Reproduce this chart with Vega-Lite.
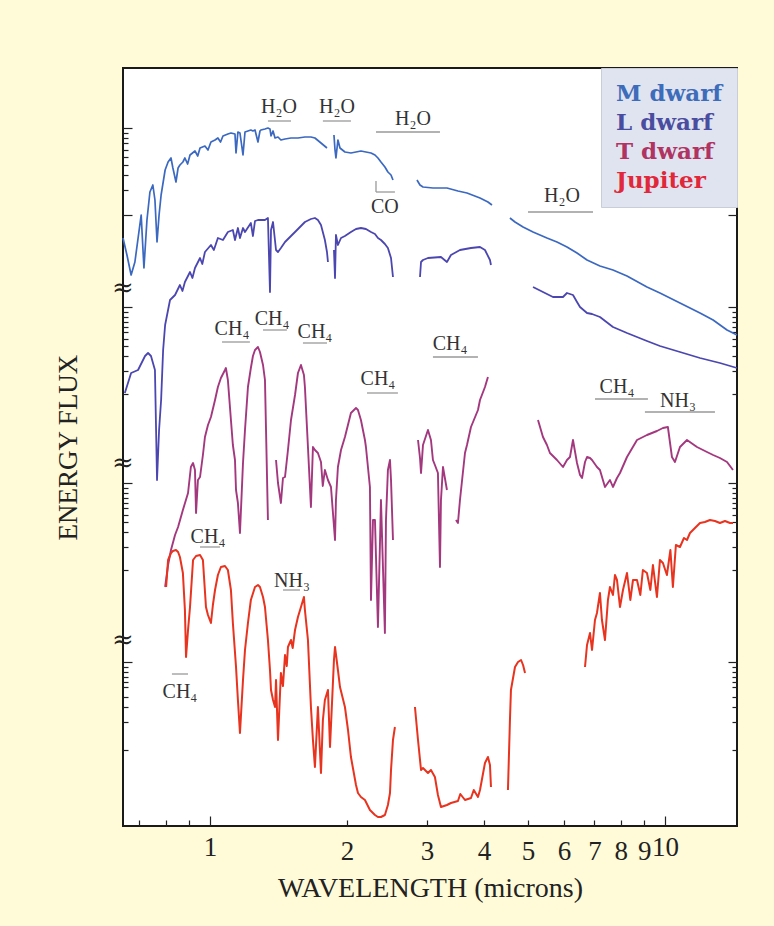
{
  "$schema": "https://vega.github.io/schema/vega-lite/v6.json",
  "width": 614,
  "height": 758,
  "autosize": "none",
  "padding": {"left": 123, "top": 68, "right": 37, "bottom": 100},
  "background": "#fffbd8",
  "config": {"view": {"fill": "white", "stroke": "#1a1a1a", "strokeWidth": 2}, "font": "Liberation Serif"},
  "datasets": {
    "spec": [
      {"s":"M dwarf","g":"M1","wl":0.644,"f":588},{"s":"M dwarf","g":"M1","wl":0.657,"f":571},{"s":"M dwarf","g":"M1","wl":0.671,"f":551},{"s":"M dwarf","g":"M1","wl":0.684,"f":564},{"s":"M dwarf","g":"M1","wl":0.706,"f":611},{"s":"M dwarf","g":"M1","wl":0.716,"f":558},{"s":"M dwarf","g":"M1","wl":0.727,"f":606},{"s":"M dwarf","g":"M1","wl":0.738,"f":634},{"s":"M dwarf","g":"M1","wl":0.749,"f":641},{"s":"M dwarf","g":"M1","wl":0.757,"f":626},{"s":"M dwarf","g":"M1","wl":0.765,"f":584},{"s":"M dwarf","g":"M1","wl":0.773,"f":611},{"s":"M dwarf","g":"M1","wl":0.781,"f":631},{"s":"M dwarf","g":"M1","wl":0.797,"f":656},{"s":"M dwarf","g":"M1","wl":0.809,"f":664},{"s":"M dwarf","g":"M1","wl":0.821,"f":668},{"s":"M dwarf","g":"M1","wl":0.829,"f":658},{"s":"M dwarf","g":"M1","wl":0.842,"f":644},{"s":"M dwarf","g":"M1","wl":0.851,"f":658},{"s":"M dwarf","g":"M1","wl":0.859,"f":661},{"s":"M dwarf","g":"M1","wl":0.872,"f":664},{"s":"M dwarf","g":"M1","wl":0.881,"f":668},{"s":"M dwarf","g":"M1","wl":0.893,"f":662},{"s":"M dwarf","g":"M1","wl":0.904,"f":671},{"s":"M dwarf","g":"M1","wl":0.927,"f":675},{"s":"M dwarf","g":"M1","wl":0.94,"f":670},{"s":"M dwarf","g":"M1","wl":0.951,"f":678},{"s":"M dwarf","g":"M1","wl":0.975,"f":680},{"s":"M dwarf","g":"M1","wl":0.99,"f":676},{"s":"M dwarf","g":"M1","wl":1.005,"f":684},{"s":"M dwarf","g":"M1","wl":1.026,"f":686},{"s":"M dwarf","g":"M1","wl":1.041,"f":688},{"s":"M dwarf","g":"M1","wl":1.055,"f":684},{"s":"M dwarf","g":"M1","wl":1.068,"f":690},{"s":"M dwarf","g":"M1","wl":1.095,"f":692},{"s":"M dwarf","g":"M1","wl":1.112,"f":693},{"s":"M dwarf","g":"M1","wl":1.135,"f":692},{"s":"M dwarf","g":"M1","wl":1.141,"f":673},{"s":"M dwarf","g":"M1","wl":1.152,"f":694},{"s":"M dwarf","g":"M1","wl":1.164,"f":693},{"s":"M dwarf","g":"M1","wl":1.182,"f":671},{"s":"M dwarf","g":"M1","wl":1.194,"f":694},{"s":"M dwarf","g":"M1","wl":1.212,"f":695},{"s":"M dwarf","g":"M1","wl":1.23,"f":696},{"s":"M dwarf","g":"M1","wl":1.243,"f":695},{"s":"M dwarf","g":"M1","wl":1.256,"f":696},{"s":"M dwarf","g":"M1","wl":1.275,"f":684},{"s":"M dwarf","g":"M1","wl":1.288,"f":695},{"s":"M dwarf","g":"M1","wl":1.294,"f":696},{"s":"M dwarf","g":"M1","wl":1.321,"f":697},{"s":"M dwarf","g":"M1","wl":1.341,"f":698},{"s":"M dwarf","g":"M1","wl":1.355,"f":697},{"s":"M dwarf","g":"M1","wl":1.362,"f":690},{"s":"M dwarf","g":"M1","wl":1.376,"f":695},{"s":"M dwarf","g":"M1","wl":1.39,"f":688},{"s":"M dwarf","g":"M1","wl":1.411,"f":689},{"s":"M dwarf","g":"M1","wl":1.432,"f":686},{"s":"M dwarf","g":"M1","wl":1.462,"f":687},{"s":"M dwarf","g":"M1","wl":1.507,"f":688},{"s":"M dwarf","g":"M1","wl":1.561,"f":688},{"s":"M dwarf","g":"M1","wl":1.617,"f":689},{"s":"M dwarf","g":"M1","wl":1.667,"f":689},{"s":"M dwarf","g":"M1","wl":1.701,"f":688},{"s":"M dwarf","g":"M1","wl":1.754,"f":683},{"s":"M dwarf","g":"M1","wl":1.808,"f":678},
      {"s":"M dwarf","g":"M2","wl":1.873,"f":691},{"s":"M dwarf","g":"M2","wl":1.883,"f":676},{"s":"M dwarf","g":"M2","wl":1.892,"f":668},{"s":"M dwarf","g":"M2","wl":1.911,"f":686},{"s":"M dwarf","g":"M2","wl":1.931,"f":678},{"s":"M dwarf","g":"M2","wl":1.98,"f":674},{"s":"M dwarf","g":"M2","wl":2.041,"f":673},{"s":"M dwarf","g":"M2","wl":2.094,"f":674},{"s":"M dwarf","g":"M2","wl":2.147,"f":675},{"s":"M dwarf","g":"M2","wl":2.202,"f":674},{"s":"M dwarf","g":"M2","wl":2.259,"f":673},{"s":"M dwarf","g":"M2","wl":2.305,"f":671},{"s":"M dwarf","g":"M2","wl":2.34,"f":668},{"s":"M dwarf","g":"M2","wl":2.376,"f":664},{"s":"M dwarf","g":"M2","wl":2.424,"f":659},{"s":"M dwarf","g":"M2","wl":2.461,"f":654},{"s":"M dwarf","g":"M2","wl":2.5,"f":651},{"s":"M dwarf","g":"M2","wl":2.525,"f":646},
      {"s":"M dwarf","g":"M3","wl":2.851,"f":646},{"s":"M dwarf","g":"M3","wl":2.895,"f":641},{"s":"M dwarf","g":"M3","wl":2.939,"f":639},{"s":"M dwarf","g":"M3","wl":3.091,"f":638},{"s":"M dwarf","g":"M3","wl":3.318,"f":638},{"s":"M dwarf","g":"M3","wl":3.508,"f":635},{"s":"M dwarf","g":"M3","wl":3.672,"f":633},{"s":"M dwarf","g":"M3","wl":3.922,"f":628},{"s":"M dwarf","g":"M3","wl":4.083,"f":624},{"s":"M dwarf","g":"M3","wl":4.167,"f":621},
      {"s":"M dwarf","g":"M4","wl":4.564,"f":608},{"s":"M dwarf","g":"M4","wl":4.682,"f":604},{"s":"M dwarf","g":"M4","wl":4.877,"f":599},{"s":"M dwarf","g":"M4","wl":5.129,"f":594},{"s":"M dwarf","g":"M4","wl":5.504,"f":588},{"s":"M dwarf","g":"M4","wl":5.79,"f":584},{"s":"M dwarf","g":"M4","wl":6.091,"f":579},{"s":"M dwarf","g":"M4","wl":6.408,"f":573},{"s":"M dwarf","g":"M4","wl":6.741,"f":566},{"s":"M dwarf","g":"M4","wl":7.197,"f":560},{"s":"M dwarf","g":"M4","wl":7.687,"f":556},{"s":"M dwarf","g":"M4","wl":8.252,"f":550},{"s":"M dwarf","g":"M4","wl":9.13,"f":539},{"s":"M dwarf","g":"M4","wl":9.75,"f":533},{"s":"M dwarf","g":"M4","wl":10.79,"f":523},{"s":"M dwarf","g":"M4","wl":11.94,"f":513},{"s":"M dwarf","g":"M4","wl":12.76,"f":506},{"s":"M dwarf","g":"M4","wl":13.69,"f":496},{"s":"M dwarf","g":"M4","wl":14.4,"f":491},

      {"s":"L dwarf","g":"L1","wl":0.65,"f":433},{"s":"L dwarf","g":"L1","wl":0.671,"f":453},{"s":"L dwarf","g":"L1","wl":0.695,"f":456},{"s":"L dwarf","g":"L1","wl":0.72,"f":470},{"s":"L dwarf","g":"L1","wl":0.731,"f":473},{"s":"L dwarf","g":"L1","wl":0.742,"f":470},{"s":"L dwarf","g":"L1","wl":0.757,"f":456},{"s":"L dwarf","g":"L1","wl":0.765,"f":346},{"s":"L dwarf","g":"L1","wl":0.773,"f":396},{"s":"L dwarf","g":"L1","wl":0.781,"f":426},{"s":"L dwarf","g":"L1","wl":0.789,"f":476},{"s":"L dwarf","g":"L1","wl":0.797,"f":501},{"s":"L dwarf","g":"L1","wl":0.817,"f":526},{"s":"L dwarf","g":"L1","wl":0.838,"f":531},{"s":"L dwarf","g":"L1","wl":0.859,"f":541},{"s":"L dwarf","g":"L1","wl":0.87,"f":535},{"s":"L dwarf","g":"L1","wl":0.881,"f":544},{"s":"L dwarf","g":"L1","wl":0.904,"f":554},{"s":"L dwarf","g":"L1","wl":0.915,"f":548},{"s":"L dwarf","g":"L1","wl":0.927,"f":558},{"s":"L dwarf","g":"L1","wl":0.951,"f":568},{"s":"L dwarf","g":"L1","wl":0.962,"f":562},{"s":"L dwarf","g":"L1","wl":0.975,"f":574},{"s":"L dwarf","g":"L1","wl":1.005,"f":581},{"s":"L dwarf","g":"L1","wl":1.02,"f":576},{"s":"L dwarf","g":"L1","wl":1.041,"f":588},{"s":"L dwarf","g":"L1","wl":1.068,"f":586},{"s":"L dwarf","g":"L1","wl":1.095,"f":594},{"s":"L dwarf","g":"L1","wl":1.123,"f":596},{"s":"L dwarf","g":"L1","wl":1.135,"f":586},{"s":"L dwarf","g":"L1","wl":1.152,"f":598},{"s":"L dwarf","g":"L1","wl":1.164,"f":588},{"s":"L dwarf","g":"L1","wl":1.182,"f":598},{"s":"L dwarf","g":"L1","wl":1.194,"f":594},{"s":"L dwarf","g":"L1","wl":1.23,"f":603},{"s":"L dwarf","g":"L1","wl":1.243,"f":590},{"s":"L dwarf","g":"L1","wl":1.256,"f":605},{"s":"L dwarf","g":"L1","wl":1.275,"f":606},{"s":"L dwarf","g":"L1","wl":1.321,"f":606},{"s":"L dwarf","g":"L1","wl":1.341,"f":608},{"s":"L dwarf","g":"L1","wl":1.355,"f":534},{"s":"L dwarf","g":"L1","wl":1.362,"f":596},{"s":"L dwarf","g":"L1","wl":1.376,"f":604},{"s":"L dwarf","g":"L1","wl":1.397,"f":576},{"s":"L dwarf","g":"L1","wl":1.411,"f":574},{"s":"L dwarf","g":"L1","wl":1.432,"f":578},{"s":"L dwarf","g":"L1","wl":1.462,"f":584},{"s":"L dwarf","g":"L1","wl":1.507,"f":590},{"s":"L dwarf","g":"L1","wl":1.538,"f":594},{"s":"L dwarf","g":"L1","wl":1.585,"f":600},{"s":"L dwarf","g":"L1","wl":1.617,"f":604},{"s":"L dwarf","g":"L1","wl":1.667,"f":607},{"s":"L dwarf","g":"L1","wl":1.701,"f":608},{"s":"L dwarf","g":"L1","wl":1.727,"f":606},{"s":"L dwarf","g":"L1","wl":1.754,"f":601},{"s":"L dwarf","g":"L1","wl":1.789,"f":586},{"s":"L dwarf","g":"L1","wl":1.808,"f":574},{"s":"L dwarf","g":"L1","wl":1.817,"f":564},
      {"s":"L dwarf","g":"L2","wl":1.873,"f":576},{"s":"L dwarf","g":"L2","wl":1.883,"f":548},{"s":"L dwarf","g":"L2","wl":1.892,"f":591},{"s":"L dwarf","g":"L2","wl":1.911,"f":581},{"s":"L dwarf","g":"L2","wl":1.941,"f":588},{"s":"L dwarf","g":"L2","wl":1.98,"f":590},{"s":"L dwarf","g":"L2","wl":2.041,"f":594},{"s":"L dwarf","g":"L2","wl":2.094,"f":597},{"s":"L dwarf","g":"L2","wl":2.147,"f":598},{"s":"L dwarf","g":"L2","wl":2.202,"f":597},{"s":"L dwarf","g":"L2","wl":2.259,"f":594},{"s":"L dwarf","g":"L2","wl":2.305,"f":592},{"s":"L dwarf","g":"L2","wl":2.34,"f":588},{"s":"L dwarf","g":"L2","wl":2.376,"f":586},{"s":"L dwarf","g":"L2","wl":2.424,"f":582},{"s":"L dwarf","g":"L2","wl":2.461,"f":578},{"s":"L dwarf","g":"L2","wl":2.5,"f":568},{"s":"L dwarf","g":"L2","wl":2.525,"f":549},
      {"s":"L dwarf","g":"L3","wl":2.895,"f":549},{"s":"L dwarf","g":"L3","wl":2.91,"f":564},{"s":"L dwarf","g":"L3","wl":2.939,"f":566},{"s":"L dwarf","g":"L3","wl":3.014,"f":568},{"s":"L dwarf","g":"L3","wl":3.219,"f":569},{"s":"L dwarf","g":"L3","wl":3.318,"f":564},{"s":"L dwarf","g":"L3","wl":3.386,"f":571},{"s":"L dwarf","g":"L3","wl":3.544,"f":576},{"s":"L dwarf","g":"L3","wl":3.747,"f":578},{"s":"L dwarf","g":"L3","wl":3.922,"f":579},{"s":"L dwarf","g":"L3","wl":4.022,"f":576},{"s":"L dwarf","g":"L3","wl":4.125,"f":566},{"s":"L dwarf","g":"L3","wl":4.146,"f":561},
      {"s":"L dwarf","g":"L4","wl":5.129,"f":539},{"s":"L dwarf","g":"L4","wl":5.394,"f":534},{"s":"L dwarf","g":"L4","wl":5.674,"f":529},{"s":"L dwarf","g":"L4","wl":5.969,"f":529},{"s":"L dwarf","g":"L4","wl":6.091,"f":533},{"s":"L dwarf","g":"L4","wl":6.184,"f":532},{"s":"L dwarf","g":"L4","wl":6.279,"f":531},{"s":"L dwarf","g":"L4","wl":6.408,"f":524},{"s":"L dwarf","g":"L4","wl":6.506,"f":519},{"s":"L dwarf","g":"L4","wl":6.741,"f":513},{"s":"L dwarf","g":"L4","wl":6.914,"f":512},{"s":"L dwarf","g":"L4","wl":7.197,"f":509},{"s":"L dwarf","g":"L4","wl":7.687,"f":499},{"s":"L dwarf","g":"L4","wl":8.252,"f":493},{"s":"L dwarf","g":"L4","wl":9.13,"f":485},{"s":"L dwarf","g":"L4","wl":9.75,"f":480},{"s":"L dwarf","g":"L4","wl":10.79,"f":474},{"s":"L dwarf","g":"L4","wl":11.94,"f":468},{"s":"L dwarf","g":"L4","wl":13.21,"f":463},{"s":"L dwarf","g":"L4","wl":14.4,"f":458},

      {"s":"T dwarf","g":"T1","wl":0.797,"f":239},{"s":"T dwarf","g":"T1","wl":0.809,"f":261},{"s":"T dwarf","g":"T1","wl":0.821,"f":276},{"s":"T dwarf","g":"T1","wl":0.838,"f":291},{"s":"T dwarf","g":"T1","wl":0.851,"f":299},{"s":"T dwarf","g":"T1","wl":0.872,"f":316},{"s":"T dwarf","g":"T1","wl":0.895,"f":333},{"s":"T dwarf","g":"T1","wl":0.908,"f":359},{"s":"T dwarf","g":"T1","wl":0.918,"f":363},{"s":"T dwarf","g":"T1","wl":0.927,"f":356},{"s":"T dwarf","g":"T1","wl":0.932,"f":313},{"s":"T dwarf","g":"T1","wl":0.941,"f":346},{"s":"T dwarf","g":"T1","wl":0.951,"f":349},{"s":"T dwarf","g":"T1","wl":0.965,"f":371},{"s":"T dwarf","g":"T1","wl":0.975,"f":389},{"s":"T dwarf","g":"T1","wl":0.99,"f":401},{"s":"T dwarf","g":"T1","wl":1.005,"f":409},{"s":"T dwarf","g":"T1","wl":1.026,"f":426},{"s":"T dwarf","g":"T1","wl":1.041,"f":439},{"s":"T dwarf","g":"T1","wl":1.057,"f":448},{"s":"T dwarf","g":"T1","wl":1.079,"f":456},{"s":"T dwarf","g":"T1","wl":1.084,"f":458},{"s":"T dwarf","g":"T1","wl":1.095,"f":446},{"s":"T dwarf","g":"T1","wl":1.112,"f":406},{"s":"T dwarf","g":"T1","wl":1.123,"f":381},{"s":"T dwarf","g":"T1","wl":1.135,"f":366},{"s":"T dwarf","g":"T1","wl":1.141,"f":336},{"s":"T dwarf","g":"T1","wl":1.152,"f":323},{"s":"T dwarf","g":"T1","wl":1.164,"f":293},{"s":"T dwarf","g":"T1","wl":1.182,"f":363},{"s":"T dwarf","g":"T1","wl":1.194,"f":396},{"s":"T dwarf","g":"T1","wl":1.212,"f":439},{"s":"T dwarf","g":"T1","wl":1.23,"f":458},{"s":"T dwarf","g":"T1","wl":1.243,"f":470},{"s":"T dwarf","g":"T1","wl":1.256,"f":476},{"s":"T dwarf","g":"T1","wl":1.275,"f":479},{"s":"T dwarf","g":"T1","wl":1.288,"f":474},{"s":"T dwarf","g":"T1","wl":1.308,"f":461},{"s":"T dwarf","g":"T1","wl":1.321,"f":446},{"s":"T dwarf","g":"T1","wl":1.341,"f":306},
      {"s":"T dwarf","g":"T2","wl":1.397,"f":366},{"s":"T dwarf","g":"T2","wl":1.411,"f":343},{"s":"T dwarf","g":"T2","wl":1.432,"f":323},{"s":"T dwarf","g":"T2","wl":1.447,"f":348},{"s":"T dwarf","g":"T2","wl":1.462,"f":349},{"s":"T dwarf","g":"T2","wl":1.484,"f":376},{"s":"T dwarf","g":"T2","wl":1.507,"f":406},{"s":"T dwarf","g":"T2","wl":1.538,"f":431},{"s":"T dwarf","g":"T2","wl":1.561,"f":453},{"s":"T dwarf","g":"T2","wl":1.585,"f":461},{"s":"T dwarf","g":"T2","wl":1.609,"f":451},{"s":"T dwarf","g":"T2","wl":1.617,"f":439},{"s":"T dwarf","g":"T2","wl":1.642,"f":379},{"s":"T dwarf","g":"T2","wl":1.667,"f":319},{"s":"T dwarf","g":"T2","wl":1.684,"f":379},{"s":"T dwarf","g":"T2","wl":1.701,"f":376},{"s":"T dwarf","g":"T2","wl":1.727,"f":373},{"s":"T dwarf","g":"T2","wl":1.754,"f":364},{"s":"T dwarf","g":"T2","wl":1.77,"f":340},{"s":"T dwarf","g":"T2","wl":1.789,"f":356},{"s":"T dwarf","g":"T2","wl":1.817,"f":346},{"s":"T dwarf","g":"T2","wl":1.845,"f":339},{"s":"T dwarf","g":"T2","wl":1.883,"f":286},{"s":"T dwarf","g":"T2","wl":1.892,"f":326},{"s":"T dwarf","g":"T2","wl":1.911,"f":359},{"s":"T dwarf","g":"T2","wl":1.941,"f":376},{"s":"T dwarf","g":"T2","wl":1.98,"f":389},{"s":"T dwarf","g":"T2","wl":2.041,"f":413},{"s":"T dwarf","g":"T2","wl":2.094,"f":418},{"s":"T dwarf","g":"T2","wl":2.115,"f":416},{"s":"T dwarf","g":"T2","wl":2.147,"f":406},{"s":"T dwarf","g":"T2","wl":2.191,"f":386},{"s":"T dwarf","g":"T2","wl":2.202,"f":379},{"s":"T dwarf","g":"T2","wl":2.247,"f":339},{"s":"T dwarf","g":"T2","wl":2.259,"f":226},{"s":"T dwarf","g":"T2","wl":2.282,"f":306},{"s":"T dwarf","g":"T2","wl":2.305,"f":306},{"s":"T dwarf","g":"T2","wl":2.34,"f":199},{"s":"T dwarf","g":"T2","wl":2.365,"f":286},{"s":"T dwarf","g":"T2","wl":2.376,"f":326},{"s":"T dwarf","g":"T2","wl":2.424,"f":193},{"s":"T dwarf","g":"T2","wl":2.437,"f":306},{"s":"T dwarf","g":"T2","wl":2.461,"f":356},{"s":"T dwarf","g":"T2","wl":2.487,"f":366},{"s":"T dwarf","g":"T2","wl":2.5,"f":346},{"s":"T dwarf","g":"T2","wl":2.525,"f":286},
      {"s":"T dwarf","g":"T3","wl":2.866,"f":386},{"s":"T dwarf","g":"T3","wl":2.895,"f":368},{"s":"T dwarf","g":"T3","wl":2.91,"f":353},{"s":"T dwarf","g":"T3","wl":2.939,"f":381},{"s":"T dwarf","g":"T3","wl":3.014,"f":396},{"s":"T dwarf","g":"T3","wl":3.06,"f":386},{"s":"T dwarf","g":"T3","wl":3.091,"f":366},{"s":"T dwarf","g":"T3","wl":3.122,"f":361},{"s":"T dwarf","g":"T3","wl":3.17,"f":353},{"s":"T dwarf","g":"T3","wl":3.203,"f":259},{"s":"T dwarf","g":"T3","wl":3.219,"f":326},{"s":"T dwarf","g":"T3","wl":3.252,"f":359},{"s":"T dwarf","g":"T3","wl":3.318,"f":336},
      {"s":"T dwarf","g":"T4","wl":3.473,"f":306},{"s":"T dwarf","g":"T4","wl":3.508,"f":303},{"s":"T dwarf","g":"T4","wl":3.544,"f":326},{"s":"T dwarf","g":"T4","wl":3.635,"f":373},{"s":"T dwarf","g":"T4","wl":3.672,"f":381},{"s":"T dwarf","g":"T4","wl":3.747,"f":399},{"s":"T dwarf","g":"T4","wl":3.882,"f":416},{"s":"T dwarf","g":"T4","wl":3.922,"f":426},{"s":"T dwarf","g":"T4","wl":4.022,"f":439},{"s":"T dwarf","g":"T4","wl":4.083,"f":449},
      {"s":"T dwarf","g":"T5","wl":5.26,"f":406},{"s":"T dwarf","g":"T5","wl":5.394,"f":389},{"s":"T dwarf","g":"T5","wl":5.504,"f":381},{"s":"T dwarf","g":"T5","wl":5.588,"f":373},{"s":"T dwarf","g":"T5","wl":5.674,"f":370},{"s":"T dwarf","g":"T5","wl":5.79,"f":366},{"s":"T dwarf","g":"T5","wl":5.969,"f":359},{"s":"T dwarf","g":"T5","wl":6.091,"f":366},{"s":"T dwarf","g":"T5","wl":6.184,"f":369},{"s":"T dwarf","g":"T5","wl":6.279,"f":386},{"s":"T dwarf","g":"T5","wl":6.408,"f":363},{"s":"T dwarf","g":"T5","wl":6.506,"f":351},{"s":"T dwarf","g":"T5","wl":6.573,"f":348},{"s":"T dwarf","g":"T5","wl":6.673,"f":364},{"s":"T dwarf","g":"T5","wl":6.741,"f":369},{"s":"T dwarf","g":"T5","wl":6.844,"f":368},{"s":"T dwarf","g":"T5","wl":6.914,"f":366},{"s":"T dwarf","g":"T5","wl":7.089,"f":359},{"s":"T dwarf","g":"T5","wl":7.197,"f":356},{"s":"T dwarf","g":"T5","wl":7.382,"f":339},{"s":"T dwarf","g":"T5","wl":7.571,"f":346},{"s":"T dwarf","g":"T5","wl":7.687,"f":339},{"s":"T dwarf","g":"T5","wl":7.845,"f":348},{"s":"T dwarf","g":"T5","wl":7.965,"f":353},{"s":"T dwarf","g":"T5","wl":8.252,"f":369},{"s":"T dwarf","g":"T5","wl":8.681,"f":386},{"s":"T dwarf","g":"T5","wl":9.13,"f":391},{"s":"T dwarf","g":"T5","wl":9.603,"f":395},{"s":"T dwarf","g":"T5","wl":9.899,"f":398},{"s":"T dwarf","g":"T5","wl":10.15,"f":399},{"s":"T dwarf","g":"T5","wl":10.36,"f":369},{"s":"T dwarf","g":"T5","wl":10.52,"f":364},{"s":"T dwarf","g":"T5","wl":10.79,"f":379},{"s":"T dwarf","g":"T5","wl":11.18,"f":386},{"s":"T dwarf","g":"T5","wl":11.76,"f":379},{"s":"T dwarf","g":"T5","wl":12.37,"f":374},{"s":"T dwarf","g":"T5","wl":12.76,"f":371},{"s":"T dwarf","g":"T5","wl":13.21,"f":368},{"s":"T dwarf","g":"T5","wl":13.69,"f":364},{"s":"T dwarf","g":"T5","wl":14.11,"f":356},

      {"s":"Jupiter","g":"J1","wl":0.801,"f":239},{"s":"Jupiter","g":"J1","wl":0.809,"f":266},{"s":"Jupiter","g":"J1","wl":0.821,"f":273},{"s":"Jupiter","g":"J1","wl":0.829,"f":275},{"s":"Jupiter","g":"J1","wl":0.842,"f":276},{"s":"Jupiter","g":"J1","wl":0.851,"f":274},{"s":"Jupiter","g":"J1","wl":0.859,"f":269},{"s":"Jupiter","g":"J1","wl":0.872,"f":253},{"s":"Jupiter","g":"J1","wl":0.881,"f":216},{"s":"Jupiter","g":"J1","wl":0.886,"f":169},{"s":"Jupiter","g":"J1","wl":0.895,"f":196},{"s":"Jupiter","g":"J1","wl":0.904,"f":219},{"s":"Jupiter","g":"J1","wl":0.918,"f":266},{"s":"Jupiter","g":"J1","wl":0.932,"f":270},{"s":"Jupiter","g":"J1","wl":0.951,"f":271},{"s":"Jupiter","g":"J1","wl":0.965,"f":266},{"s":"Jupiter","g":"J1","wl":0.98,"f":219},{"s":"Jupiter","g":"J1","wl":0.99,"f":211},{"s":"Jupiter","g":"J1","wl":1.005,"f":203},{"s":"Jupiter","g":"J1","wl":1.015,"f":221},{"s":"Jupiter","g":"J1","wl":1.026,"f":236},{"s":"Jupiter","g":"J1","wl":1.041,"f":251},{"s":"Jupiter","g":"J1","wl":1.057,"f":259},{"s":"Jupiter","g":"J1","wl":1.079,"f":260},{"s":"Jupiter","g":"J1","wl":1.095,"f":256},{"s":"Jupiter","g":"J1","wl":1.112,"f":236},{"s":"Jupiter","g":"J1","wl":1.123,"f":203},{"s":"Jupiter","g":"J1","wl":1.141,"f":159},{"s":"Jupiter","g":"J1","wl":1.152,"f":126},{"s":"Jupiter","g":"J1","wl":1.164,"f":93},{"s":"Jupiter","g":"J1","wl":1.182,"f":146},{"s":"Jupiter","g":"J1","wl":1.194,"f":176},{"s":"Jupiter","g":"J1","wl":1.212,"f":203},{"s":"Jupiter","g":"J1","wl":1.23,"f":226},{"s":"Jupiter","g":"J1","wl":1.256,"f":239},{"s":"Jupiter","g":"J1","wl":1.275,"f":241},{"s":"Jupiter","g":"J1","wl":1.288,"f":239},{"s":"Jupiter","g":"J1","wl":1.308,"f":229},{"s":"Jupiter","g":"J1","wl":1.321,"f":219},{"s":"Jupiter","g":"J1","wl":1.341,"f":186},{"s":"Jupiter","g":"J1","wl":1.355,"f":156},{"s":"Jupiter","g":"J1","wl":1.362,"f":136},{"s":"Jupiter","g":"J1","wl":1.376,"f":126},{"s":"Jupiter","g":"J1","wl":1.39,"f":119},{"s":"Jupiter","g":"J1","wl":1.397,"f":146},{"s":"Jupiter","g":"J1","wl":1.411,"f":86},{"s":"Jupiter","g":"J1","wl":1.432,"f":153},{"s":"Jupiter","g":"J1","wl":1.447,"f":140},{"s":"Jupiter","g":"J1","wl":1.462,"f":171},{"s":"Jupiter","g":"J1","wl":1.475,"f":160},{"s":"Jupiter","g":"J1","wl":1.484,"f":179},{"s":"Jupiter","g":"J1","wl":1.507,"f":186},{"s":"Jupiter","g":"J1","wl":1.52,"f":178},{"s":"Jupiter","g":"J1","wl":1.538,"f":196},{"s":"Jupiter","g":"J1","wl":1.561,"f":209},{"s":"Jupiter","g":"J1","wl":1.585,"f":219},{"s":"Jupiter","g":"J1","wl":1.609,"f":229},{"s":"Jupiter","g":"J1","wl":1.617,"f":216},{"s":"Jupiter","g":"J1","wl":1.642,"f":186},{"s":"Jupiter","g":"J1","wl":1.667,"f":119},{"s":"Jupiter","g":"J1","wl":1.684,"f":86},{"s":"Jupiter","g":"J1","wl":1.701,"f":59},{"s":"Jupiter","g":"J1","wl":1.727,"f":119},{"s":"Jupiter","g":"J1","wl":1.754,"f":53},{"s":"Jupiter","g":"J1","wl":1.771,"f":106},{"s":"Jupiter","g":"J1","wl":1.789,"f":126},{"s":"Jupiter","g":"J1","wl":1.817,"f":136},{"s":"Jupiter","g":"J1","wl":1.836,"f":79},{"s":"Jupiter","g":"J1","wl":1.873,"f":166},{"s":"Jupiter","g":"J1","wl":1.883,"f":179},{"s":"Jupiter","g":"J1","wl":1.911,"f":156},{"s":"Jupiter","g":"J1","wl":1.931,"f":139},{"s":"Jupiter","g":"J1","wl":1.98,"f":119},{"s":"Jupiter","g":"J1","wl":2.011,"f":96},{"s":"Jupiter","g":"J1","wl":2.041,"f":69},{"s":"Jupiter","g":"J1","wl":2.094,"f":41},{"s":"Jupiter","g":"J1","wl":2.115,"f":33},{"s":"Jupiter","g":"J1","wl":2.147,"f":29},{"s":"Jupiter","g":"J1","wl":2.191,"f":26},{"s":"Jupiter","g":"J1","wl":2.247,"f":16},{"s":"Jupiter","g":"J1","wl":2.305,"f":11},{"s":"Jupiter","g":"J1","wl":2.34,"f":9},{"s":"Jupiter","g":"J1","wl":2.376,"f":9},{"s":"Jupiter","g":"J1","wl":2.424,"f":11},{"s":"Jupiter","g":"J1","wl":2.461,"f":21},{"s":"Jupiter","g":"J1","wl":2.487,"f":33},{"s":"Jupiter","g":"J1","wl":2.5,"f":56},{"s":"Jupiter","g":"J1","wl":2.525,"f":86},{"s":"Jupiter","g":"J1","wl":2.55,"f":99},
      {"s":"Jupiter","g":"J2","wl":2.822,"f":119},{"s":"Jupiter","g":"J2","wl":2.866,"f":86},{"s":"Jupiter","g":"J2","wl":2.91,"f":56},{"s":"Jupiter","g":"J2","wl":2.939,"f":58},{"s":"Jupiter","g":"J2","wl":3.014,"f":53},{"s":"Jupiter","g":"J2","wl":3.06,"f":56},{"s":"Jupiter","g":"J2","wl":3.122,"f":49},{"s":"Jupiter","g":"J2","wl":3.17,"f":31},{"s":"Jupiter","g":"J2","wl":3.219,"f":19},{"s":"Jupiter","g":"J2","wl":3.318,"f":21},{"s":"Jupiter","g":"J2","wl":3.386,"f":23},{"s":"Jupiter","g":"J2","wl":3.508,"f":25},{"s":"Jupiter","g":"J2","wl":3.55,"f":32},{"s":"Jupiter","g":"J2","wl":3.635,"f":26},{"s":"Jupiter","g":"J2","wl":3.747,"f":28},{"s":"Jupiter","g":"J2","wl":3.8,"f":36},{"s":"Jupiter","g":"J2","wl":3.882,"f":29},{"s":"Jupiter","g":"J2","wl":3.922,"f":36},{"s":"Jupiter","g":"J2","wl":4.022,"f":63},{"s":"Jupiter","g":"J2","wl":4.083,"f":69},{"s":"Jupiter","g":"J2","wl":4.125,"f":61},{"s":"Jupiter","g":"J2","wl":4.146,"f":39},
      {"s":"Jupiter","g":"J3","wl":4.518,"f":36},{"s":"Jupiter","g":"J3","wl":4.564,"f":106},{"s":"Jupiter","g":"J3","wl":4.587,"f":136},{"s":"Jupiter","g":"J3","wl":4.682,"f":159},{"s":"Jupiter","g":"J3","wl":4.754,"f":164},{"s":"Jupiter","g":"J3","wl":4.828,"f":166},{"s":"Jupiter","g":"J3","wl":4.877,"f":161},{"s":"Jupiter","g":"J3","wl":4.926,"f":153},
      {"s":"Jupiter","g":"J4","wl":6.673,"f":159},{"s":"Jupiter","g":"J4","wl":6.741,"f":181},{"s":"Jupiter","g":"J4","wl":6.844,"f":193},{"s":"Jupiter","g":"J4","wl":6.914,"f":176},{"s":"Jupiter","g":"J4","wl":7.018,"f":206},{"s":"Jupiter","g":"J4","wl":7.089,"f":213},{"s":"Jupiter","g":"J4","wl":7.197,"f":233},{"s":"Jupiter","g":"J4","wl":7.27,"f":206},{"s":"Jupiter","g":"J4","wl":7.382,"f":186},{"s":"Jupiter","g":"J4","wl":7.494,"f":226},{"s":"Jupiter","g":"J4","wl":7.571,"f":239},{"s":"Jupiter","g":"J4","wl":7.687,"f":231},{"s":"Jupiter","g":"J4","wl":7.765,"f":251},{"s":"Jupiter","g":"J4","wl":7.845,"f":246},{"s":"Jupiter","g":"J4","wl":7.965,"f":219},{"s":"Jupiter","g":"J4","wl":8.087,"f":236},{"s":"Jupiter","g":"J4","wl":8.252,"f":253},{"s":"Jupiter","g":"J4","wl":8.393,"f":226},{"s":"Jupiter","g":"J4","wl":8.507,"f":246},{"s":"Jupiter","g":"J4","wl":8.681,"f":246},{"s":"Jupiter","g":"J4","wl":8.829,"f":231},{"s":"Jupiter","g":"J4","wl":8.944,"f":256},{"s":"Jupiter","g":"J4","wl":9.13,"f":253},{"s":"Jupiter","g":"J4","wl":9.288,"f":236},{"s":"Jupiter","g":"J4","wl":9.41,"f":261},{"s":"Jupiter","g":"J4","wl":9.603,"f":229},{"s":"Jupiter","g":"J4","wl":9.75,"f":266},{"s":"Jupiter","g":"J4","wl":9.899,"f":263},{"s":"Jupiter","g":"J4","wl":10.1,"f":251},{"s":"Jupiter","g":"J4","wl":10.28,"f":276},{"s":"Jupiter","g":"J4","wl":10.41,"f":239},{"s":"Jupiter","g":"J4","wl":10.57,"f":281},{"s":"Jupiter","g":"J4","wl":10.79,"f":279},{"s":"Jupiter","g":"J4","wl":11.01,"f":288},{"s":"Jupiter","g":"J4","wl":11.18,"f":286},{"s":"Jupiter","g":"J4","wl":11.35,"f":293},{"s":"Jupiter","g":"J4","wl":11.64,"f":298},{"s":"Jupiter","g":"J4","wl":11.94,"f":303},{"s":"Jupiter","g":"J4","wl":12.24,"f":304},{"s":"Jupiter","g":"J4","wl":12.56,"f":306},{"s":"Jupiter","g":"J4","wl":12.88,"f":305},{"s":"Jupiter","g":"J4","wl":13.21,"f":303},{"s":"Jupiter","g":"J4","wl":13.55,"f":305},{"s":"Jupiter","g":"J4","wl":13.9,"f":303},{"s":"Jupiter","g":"J4","wl":14.11,"f":303}
    ],
    "ann": [
      {"t":"H₂O","wl":1.418,"f":713},{"t":"H₂O","wl":1.902,"f":713},{"t":"H₂O","wl":2.794,"f":701},{"t":"CO","wl":2.424,"f":613},{"t":"H₂O","wl":5.937,"f":624},
      {"t":"CH₄","wl":1.118,"f":491},{"t":"CH₄","wl":1.369,"f":501},{"t":"CH₄","wl":1.701,"f":488},{"t":"CH₄","wl":2.34,"f":441},{"t":"CH₄","wl":3.371,"f":476},{"t":"CH₄","wl":7.845,"f":433},{"t":"NH₃","wl":10.68,"f":419},
      {"t":"CH₄","wl":0.99,"f":283},{"t":"NH₃","wl":1.514,"f":239},{"t":"CH₄","wl":0.859,"f":128}
    ],
    "marks": [
      {"wl":1.341,"wl2":1.507,"f":705,"f2":705},{"wl":1.771,"wl2":2.041,"f":705,"f2":705},{"wl":2.317,"wl2":3.203,"f":694,"f2":694},
      {"wl":2.317,"wl2":2.55,"f":634,"f2":634},{"wl":2.317,"wl2":2.317,"f":634,"f2":645},{"wl":5.0,"wl2":6.949,"f":614,"f2":614},
      {"wl":1.063,"wl2":1.224,"f":484,"f2":484},{"wl":1.308,"wl2":1.476,"f":496,"f2":496},{"wl":1.601,"wl2":1.808,"f":483,"f2":483},
      {"wl":2.214,"wl2":2.589,"f":433,"f2":433},{"wl":3.091,"wl2":3.882,"f":469,"f2":469},{"wl":7.018,"wl2":9.176,"f":427,"f2":427},
      {"wl":9.036,"wl2":12.88,"f":414,"f2":414},{"wl":0.951,"wl2":1.052,"f":279,"f2":279},{"wl":1.447,"wl2":1.577,"f":236,"f2":236},
      {"wl":0.825,"wl2":0.895,"f":152,"f2":152}
    ],
    "brk": [{"wl":0.644,"f":538},{"wl":0.644,"f":363},{"wl":0.644,"f":186}]
  },
  "layer": [
    {
      "data": {"name": "spec"},
      "mark": {"type": "line", "strokeJoin": "round"},
      "encoding": {
        "x": {"field": "wl", "type": "quantitative",
          "scale": {"type": "log", "domain": [0.644, 14.4], "nice": false},
          "axis": {"title": "WAVELENGTH (microns)", "titleFont": "Liberation Serif", "titleFontSize": 28, "titleFontWeight": "normal", "titleColor": "#222", "titlePadding": 10,
            "values": [0.7,0.8,0.9,1,2,3,4,5,6,7,8,9,10],
            "labelExpr": "datum.value >= 1 ? format(datum.value, 'd') : ''",
            "labelFont": "Liberation Serif", "labelFontSize": 27, "labelColor": "#222", "labelPadding": 18,
            "labelOverlap": false, "labelBound": false, "labelFlush": false,
            "tickSize": {"condition": {"test": "datum.value == 1 || datum.value == 10", "value": -10}, "value": -6},
            "tickColor": "#222", "tickWidth": 1.2, "domain": false, "grid": false}},
        "y": {"field": "f", "type": "quantitative",
          "scale": {"domain": [0, 758], "nice": false, "zero": false},
          "axis": {"title": "ENERGY FLUX", "titleFont": "Liberation Serif", "titleFontSize": 27, "titleFontWeight": "normal", "titleColor": "#222", "titlePadding": 40,
            "labels": false, "domain": false, "grid": false, "tickColor": "#222", "tickWidth": 1.2,
            "values": [698,693,688,683,676,669,661,651,636,611,519,514,509,504,499,494,487,480,470,455,432,343,338,333,328,323,318,311,304,294,279,256,164,159,154,149,144,139,129,119,104,76],
            "tickSize": {"condition": {"test": "indexof([698,611,519,343,164], datum.value) >= 0", "value": -9}, "value": -5}}},
        "color": {"field": "s", "type": "nominal",
          "scale": {"domain": ["M dwarf","L dwarf","T dwarf","Jupiter"], "range": ["#3b68c0","#4b46b0","#a3387f","#e8331f"]},
          "legend": {"orient": "top-right", "offset": 0, "title": null, "fillColor": "#dfe4f0", "strokeColor": "#c9cdd9",
            "padding": 14, "rowPadding": 5, "labelFont": "DejaVu Serif", "labelFontSize": 23, "labelFontWeight": "bold",
            "symbolSize": 0, "symbolOpacity": 0, "symbolStrokeWidth": 0, "labelOffset": -22, "zindex": 2, "labelLimit": 300,
            "encode": {"labels": {"update": {"fill": {"signal": "datum.label == 'M dwarf' ? '#3d6cba' : datum.label == 'L dwarf' ? '#4a4c9f' : datum.label == 'T dwarf' ? '#b03362' : '#e0283a'"}}}}}},
        "strokeWidth": {"field": "s", "type": "nominal",
          "scale": {"domain": ["M dwarf","L dwarf","T dwarf","Jupiter"], "range": [1.7, 2.0, 1.6, 2.2]}, "legend": null},
        "detail": {"field": "g", "type": "nominal"}
      }
    },
    {
      "data": {"name": "marks"},
      "mark": {"type": "rule", "color": "#999999", "strokeWidth": 1.3},
      "encoding": {
        "x": {"field": "wl", "type": "quantitative"},
        "x2": {"field": "wl2"},
        "y": {"field": "f", "type": "quantitative", "axis": null},
        "y2": {"field": "f2"}
      }
    },
    {
      "data": {"name": "ann"},
      "mark": {"type": "text", "font": "Liberation Serif", "fontSize": 20, "color": "#333", "align": "center", "baseline": "alphabetic"},
      "encoding": {
        "x": {"field": "wl", "type": "quantitative"},
        "y": {"field": "f", "type": "quantitative",
          "axis": {"orient": "right", "title": null, "labels": false, "domain": false, "grid": false, "tickColor": "#222", "tickWidth": 1.2,
            "values": [698,693,688,683,676,669,661,651,636,611,519,514,509,504,499,494,487,480,470,455,432,343,338,333,328,323,318,311,304,294,279,256,164,159,154,149,144,139,129,119,104,76],
            "tickSize": {"condition": {"test": "indexof([698,611,519,343,164], datum.value) >= 0", "value": -9}, "value": -5}}},
        "text": {"field": "t", "type": "nominal"}
      }
    },
    {
      "data": {"name": "brk"},
      "mark": {"type": "text", "font": "DejaVu Serif", "fontSize": 26, "color": "#222", "align": "center", "baseline": "middle", "clip": false},
      "encoding": {
        "x": {"field": "wl", "type": "quantitative"},
        "y": {"field": "f", "type": "quantitative", "axis": null},
        "text": {"value": "≈"}
      }
    }
  ],
  "resolve": {"scale": {"y": "shared"}, "axis": {"y": "independent"}}
}
